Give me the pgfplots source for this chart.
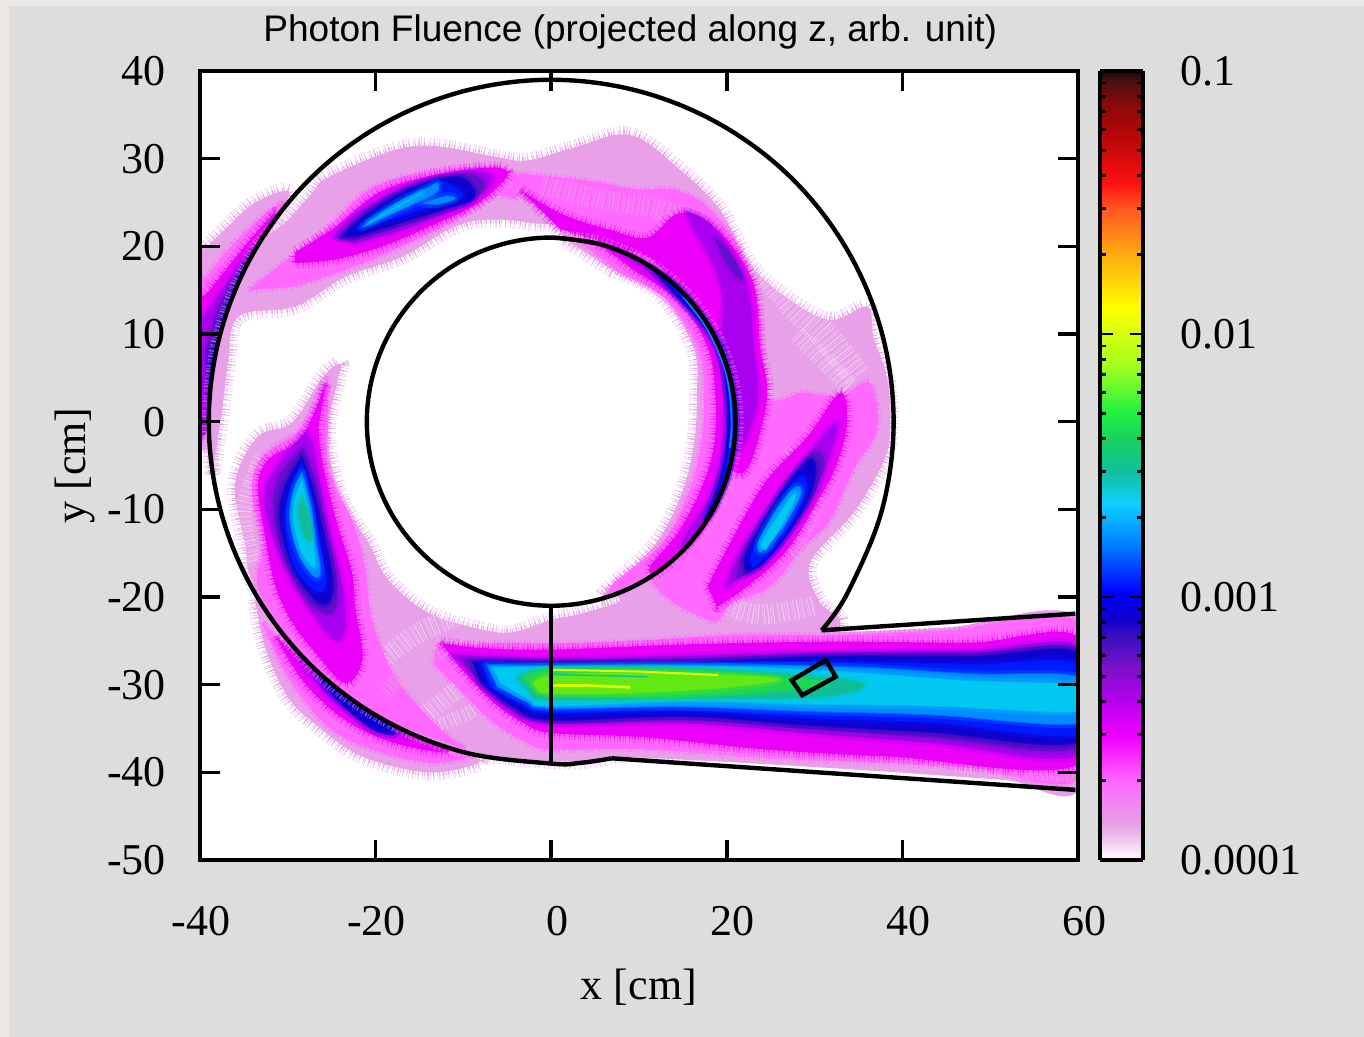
\documentclass[border=0pt]{standalone}
\usepackage{fontspec}
\setmainfont{Liberation Serif}
\newfontfamily\sansf{Liberation Sans}
\usepackage{pgfplots}
\pgfplotsset{compat=1.18}
\definecolor{cPale}{RGB}{232,160,232}
\definecolor{cPink}{RGB}{255,105,255}
\definecolor{cMag}{RGB}{235,0,250}
\definecolor{cVio}{RGB}{170,0,240}
\definecolor{cPur}{RGB}{95,16,200}
\definecolor{cDbl}{RGB}{16,0,205}
\definecolor{cBlu}{RGB}{0,25,255}
\definecolor{cAzu}{RGB}{0,140,255}
\definecolor{cCya}{RGB}{0,200,240}
\definecolor{cTea}{RGB}{16,190,150}
\definecolor{cGre}{RGB}{30,215,80}
\definecolor{cLim}{RGB}{100,232,20}
\definecolor{cYel}{RGB}{225,245,10}
\tikzset{
 rough/.style={line join=round,dash pattern=on 0.3pt off 0.9pt on 0.55pt off 1.7pt on 0.25pt off 0.6pt on 0.4pt off 1.3pt on 0.7pt off 0.8pt},
 pale/.style={fill=cPale,draw=cPale,line width=3.5pt,rough,
   preaction={draw=cPale,line width=8pt,rough,draw opacity=0.55,fill=none}},
 paleplain/.style={fill=cPale,draw=none},
 pinkf/.style={fill=cPink,draw=cPink,line width=3pt,rough,draw opacity=0.85},
 magf/.style={fill=cMag,draw=cMag,line width=2.4pt,rough,draw opacity=0.8,
   preaction={draw=cMag,line width=6pt,rough,draw opacity=0.4,fill=none}},
 lv/.style={fill=#1,draw=#1,line width=1pt,line join=round,draw opacity=0.5,
   preaction={draw=#1,line width=4pt,line join=round,draw opacity=0.25,fill=none}},
 wall/.style={draw=black,line width=2.2pt,fill=none},
 hair/.style={draw=white,fill=none,rough,draw opacity=0.4},
 phair/.style={draw=cPale,fill=none,rough,draw opacity=0.7}
}
\newcommand\blob[2]{\addplot[#1,smooth,tension=0.6,forget plot] coordinates {#2} -- cycle;}
\newcommand\hairs[2]{\addplot[hair,line width=#1,smooth,tension=0.6,forget plot] coordinates {#2};}
\newcommand\phairs[2]{\addplot[phair,line width=#1,smooth,tension=0.6,forget plot] coordinates {#2};}
\newcommand\shl[1]{\hspace*{5pt}#1}
\pgfplotsset{colormap={fluence}{
 rgb255(0pt)=(255,255,255); rgb255(42pt)=(228,166,228); rgb255(100pt)=(255,102,255);
 rgb255(156pt)=(240,0,255); rgb255(200pt)=(184,0,240); rgb255(245pt)=(122,16,200);
 rgb255(283pt)=(58,16,192); rgb255(304pt)=(16,0,200); rgb255(338pt)=(0,0,255);
 rgb255(400pt)=(0,128,255); rgb255(452pt)=(16,208,255); rgb255(490pt)=(16,192,160);
 rgb255(532pt)=(24,208,96); rgb255(566pt)=(32,240,64); rgb255(625pt)=(160,255,32);
 rgb255(700pt)=(255,255,0); rgb255(764pt)=(255,176,16); rgb255(824pt)=(255,90,32);
 rgb255(858pt)=(255,16,16); rgb255(909pt)=(192,8,8); rgb255(954pt)=(144,8,8);
 rgb255(985pt)=(80,16,16); rgb255(1000pt)=(32,8,8)}}
\begin{document}
\begin{tikzpicture}[x=1pt,y=1pt]
\path[use as bounding box] (0,0) rectangle (682,518.5);
\fill[color={rgb,255:red,235;green,231;blue,227}] (0,0) rectangle (682,518.5);
\fill[color={rgb,255:red,221;green,221;blue,221}] (4.5,0) rectangle (682,515.5);
\begin{axis}[
 at={(100pt,88.5pt)},anchor=south west,scale only axis,width=439pt,height=394.5pt,
 xmin=-40,xmax=60,ymin=-50,ymax=40,axis background/.style={fill=white},
 axis on top,axis line style={line width=2.4pt},
 xtick={-40,-20,0,20,40,60},xticklabels={-40,-20,\shl{0},\shl{20},\shl{40},\shl{60}},
 ytick={-50,-40,-30,-20,-10,0,10,20,30,40},yticklabels={-50,-40,-30,-20,-10,0,10,20,30,40},
 tick align=inside,major tick length=10pt,tick style={line width=1.8pt,black},
 ticklabel style={font=\fontsize{22}{24}\selectfont},
 xticklabel style={yshift=-19.5pt,xshift=0.5pt},yticklabel style={xshift=-13.5pt},
 xlabel={x [cm]},ylabel={y [cm]},
 label style={font=\fontsize{22}{24}\selectfont},
 xlabel style={at={(axis description cs:0.5,-0.161)},anchor=center},
 ylabel style={at={(axis description cs:-0.142,0.5)},anchor=center,rotate=0},
 title={\sansf Photon Fluence (projected along z, arb. unit)},
 title style={font=\fontsize{18.5}{20}\selectfont,at={(axis description cs:0.49,1.034)},anchor=center},
 no markers
]
% outside-wall lobes
\blob{pale}{(-41,19.5)(-39.7,19.6)(-37.5,21.6)(-33.7,25)(-29.8,26)(-33.9,19.3)(-37.8,10)(-39.1,0)(-39,-3)(-41,-3)}
\blob{pinkf}{(-41,16.5)(-39.4,16.5)(-36.8,19.6)(-33.4,23)(-30.3,25)(-33.9,19.3)(-37.8,10)(-39.1,1)(-41,-1)}
\blob{magf}{(-41,14.3)(-39.6,14.3)(-37.1,17.3)(-34,21.1)(-31.4,23.8)(-33.9,19.3)(-37.8,10)(-39.1,1)(-41,-1)}
\blob{lv=cVio}{(-41,12)(-39.6,12)(-37.5,15)(-35.2,18.1)(-33.9,19.3)(-37.8,10)(-39.1,1)(-39.5,-1.5)(-41,-2)}
\blob{lv=cPur}{(-39.3,8)(-37.9,12.8)(-36,16.5)(-34.2,18.8)(-37.8,10)(-39,3)}
\blob{lv=cDbl}{(-38.8,7)(-37.4,12)(-35.6,16)(-34.2,18.8)(-37.8,10)(-38.9,3)}
\blob{pale}{(-33.7,-20.3)(-32.6,-25.7)(-30,-31.4)(-26.5,-34.8)(-21.5,-38.2)(-14,-40)(-8.3,-38.9)(-10.1,-37.7)(-19.5,-33.8)(-27.6,-27.6)}
\blob{pinkf}{(-32.9,-22.9)(-30,-29.1)(-25.4,-34.8)(-20.4,-37.4)(-14,-38.9)(-9.5,-38.3)(-10.1,-37.7)(-19.5,-33.8)(-27.6,-27.6)}
\blob{magf}{(-31.4,-24.5)(-28.4,-29.4)(-24.6,-33.2)(-20,-35.9)(-14.7,-37.4)(-11.7,-37.4)(-19.5,-33.8)(-27.6,-27.6)}
\blob{lv=cVio}{(-28.8,-27.1)(-26,-30.6)(-22.7,-33.2)(-18.6,-35.1)(-16.3,-35.9)(-19.5,-33.8)(-27.6,-27.6)}
\blob{lv=cDbl}{(-26.5,-29.1)(-24.5,-31.6)(-20.5,-35)(-17.8,-35.6)(-19.5,-33.8)(-24,-30.7)}
% pale regions in the ring
\blob{pale}{(-38.6,-6)(-38.9,0)(-37.6,10)(-33.7,19.4)(-30,23)(-27.2,26.1)(-25.4,27.9)(-17.8,31)(-12.9,31.4)(-6.4,30.2)(-2.6,29.8)(2.7,31.3)(9,32.7)(14.7,28.7)(19.2,24.2)(22.7,17.9)(27.2,13.9)(31.8,11.6)(36,13.1)(36.7,9.7)(38.3,4.8)(38.6,-0.9)(37.8,-4.7)(34.4,-10.4)(29.5,-16.1)(30.6,-20.6)(32.9,-22.6)(31,-25)(20,-25)(10,-24)(5,-10)(1.4,10)(1.4,21)(-2.6,22.7)(-7.9,23)(-11.7,21.9)(-17,18.8)(-23.5,16.5)(-29.2,13.1)(-35.6,12)(-36.8,6.7)(-37.5,1)}
\blob{pale}{(7.9,-20.6)(3,-22)(0,-22.6)(-4.3,-24)(-7.9,-23.7)(-14,-21.8)(-18.6,-18)(-20.8,-13.8)(-23.5,-9.7)(-24.9,-5.5)(-25.4,-0.6)(-24.3,4.8)(-24,6.6)(-26,5.1)(-29.5,-0.1)(-33.4,-1.7)(-36,-7)(-34.9,-13.8)(-33.7,-19)(-27.6,-27.4)(-19.5,-33.5)(-10.1,-37.4)(0,-38.7)(7,-38.2)(20,-35)(20,-25)}
\blob{paleplain}{(0,-24)(20,-24.2)(33,-24)(45,-23.5)(60.5,-22.7)(60.5,-41.5)(52,-40.9)(45,-40.4)(30,-39.4)(7,-38.2)(0,-38.7)(-5,-37)}
% white streaks in the pale areas
\hairs{14pt}{(23,19)(27,14)(31,10)(35,5)}
\hairs{9pt}{(28,10)(31,7)(34,4)}
\hairs{10pt}{(-19,-27)(-15,-24)(-10,-22)}
\hairs{9pt}{(-15,-34)(-10,-30)(-5,-27)}
\hairs{7pt}{(-14,-35)(-9,-33)(-5,-30)}
\hairs{10pt}{(20,-21)(24,-22)(30,-21)}
\hairs{6pt}{(-33,12)(-27,13)(-20,16)}
\hairs{8pt}{(-33,-4)(-35,-10)(-34,-16)}
% pink regions
\blob{pinkf}{(-4.4,28.4)(4.1,27.5)(9.8,26.5)(13.9,26.5)(17.8,24.5)(21.5,19.6)(23.8,12)(24.6,2.9)(28.7,3.3)(32.9,2.9)(36.3,4.4)(37.1,-0.9)(34.4,-5.5)(31.8,-11.2)(28.7,-14.3)(24.9,-18.8)(20.7,-20.6)(17.8,-22.6)(10,-15)(10,10)(3,22)(0,24)(-3.5,26)}
\blob{pinkf}{(-34.5,15)(-30.6,18.1)(-25.4,22.2)(-20.8,26.5)(-14.7,28.4)(-8.3,29.1)(-4.4,28.4)(-4,25.5)(-6.4,25.7)(-10.9,23)(-17.8,19.6)(-23.5,17.3)(-29.2,15.4)}
\blob{pinkf}{(-25.4,5.1)(-28.4,-0.6)(-32.9,-4)(-34.1,-8.1)(-32.9,-13.8)(-33.2,-19.5)(-27.5,-27.5)(-19.5,-33.6)(-10.1,-37.2)(-11.7,-35.9)(-14.7,-32.9)(-17.8,-29.1)(-20.4,-22.6)(-21.2,-16.5)(-22.7,-11.2)(-25.4,-5.5)(-25.4,-0.6)}
\blob{pinkf}{(-13,-25.5)(-5,-25.2)(0,-25.3)(10,-25)(20,-24.3)(32,-24.3)(45,-23.8)(60.5,-23.2)(60.5,-40.3)(47.7,-39.5)(38.5,-39)(24.5,-38.4)(10.6,-37.4)(0,-37.4)(-2.8,-36.6)(-6.6,-34.3)(-10.8,-30.2)(-13.5,-27.5)}
% pale streaks over the pink
\phairs{10pt}{(-1,27)(5,25.5)(11,24.5)(16,23)}
\phairs{9pt}{(27,-3)(30,-9)(27,-15)}
\phairs{7pt}{(-19,-31)(-16,-28)(-12,-26)}
\phairs{5pt}{(5,-38)(20,-38.2)(35,-39.1)(50,-40)(60,-40.6)}
\phairs{4pt}{(-12,-25)(5,-24.5)(20,-24)}
% magenta and deeper: upper-left lobe
\blob{magf}{(-29.2,19.3)(-24.6,22.2)(-19.7,26.1)(-14,28)(-7.2,29)(-4.9,28.4)(-6.4,26.5)(-9,24.5)(-14,22.2)(-19.2,20)(-24.6,18.5)(-29.2,18.1)}
\blob{lv=cVio}{(-24.9,21.1)(-21.5,24.2)(-15.8,27)(-9,28.5)(-6.7,27.9)(-7.9,26.1)(-10.9,24.2)(-17,21.9)(-22.3,20.4)}
\blob{lv=cPur}{(-24.2,21)(-21,24)(-15.8,26.9)(-10,28.2)(-7.8,27.4)(-8.3,26)(-12,24.2)(-17.5,22.2)(-22.5,20.8)}
\blob{lv=cDbl}{(-23.8,21.1)(-20.8,23.8)(-15.8,26.7)(-10.9,27.9)(-9,26.8)(-9,25.3)(-12.4,24.2)(-17.8,22.5)(-22.3,21.1)}
\blob{lv=cBlu}{(-22.3,21.9)(-19.2,24.2)(-14.7,26.7)(-12.4,27.4)(-10.1,25.7)(-14,24.4)(-18.6,23)}
\blob{lv=cAzu}{(-21.5,22.2)(-17.8,24.8)(-14,26.7)(-12.9,27.2)(-13.2,26.1)(-15.8,24.8)(-19.2,23.3)}
\blob{lv=cAzu}{(-14.5,24.9)(-12,25.7)(-11,25.4)(-13,24.8)}
\blob{lv=cCya}{(-20.8,22.7)(-17.8,24.4)(-14.7,26.1)(-17,24.8)(-19.7,23.3)}
% lower-left lobe
\blob{magf}{(-25.7,4.4)(-28.4,-1.7)(-32.2,-4.3)(-33.4,-7.4)(-32.6,-13.1)(-31.4,-18.8)(-29.5,-22.9)(-26.9,-26.3)(-23.5,-29.8)(-21.5,-27.1)(-22.3,-21.4)(-22.7,-17.2)(-24.6,-10.8)(-26.1,-4.3)(-26.5,-0.6)}
\blob{lv=cVio}{(-28,-1.3)(-30.6,-4.3)(-32.6,-8.1)(-31.8,-12.7)(-30,-17.2)(-27.2,-21.8)(-24.6,-24.9)(-23.5,-23.4)(-23.8,-18.8)(-25.4,-12)(-26.5,-6.3)(-27.2,-2.4)}
\blob{lv=cPur}{(-28.2,-3)(-30.8,-6)(-31.6,-10)(-30.4,-15.5)(-27.6,-20.5)(-25,-21.8)(-24.4,-18.4)(-25.7,-12)(-26.9,-6.5)}
\blob{lv=cDbl}{(-28.4,-4)(-30.3,-7.4)(-30.9,-11.2)(-29.5,-16.5)(-26.9,-20.3)(-25.4,-20.6)(-24.9,-18)(-26.1,-12)(-27.2,-7.4)}
\blob{lv=cBlu}{(-28.4,-4.7)(-29.7,-7.8)(-30.3,-11.5)(-29.2,-16.5)(-26.9,-19.2)(-25.7,-18.8)(-26,-15.7)(-26.9,-10.8)(-27.7,-7)}
\blob{lv=cAzu}{(-28.4,-5.8)(-29.4,-8.1)(-29.7,-11.5)(-28.6,-15.4)(-26.9,-17.7)(-26.3,-16.9)(-26.9,-13.5)(-27.4,-9.7)}
\blob{lv=cCya}{(-28.4,-6.8)(-29.2,-8.9)(-29.3,-11.5)(-28.4,-14.9)(-27.2,-16.5)(-26.9,-16.1)(-27.2,-13.1)(-27.8,-9.2)}
\blob{lv=cTea}{(-28.4,-8.6)(-28.7,-10.4)(-28.2,-12.7)(-27.4,-13.7)(-27.4,-12)(-28,-9.7)}
% right lobes
\blob{magf}{(-3.5,26.4)(1.4,23.6)(7,21.8)(11,21)(14.7,23.8)(19.2,21.6)(23,15.9)(23.8,8.5)(24.6,2.9)(22.7,-4.7)(20.7,-5.5)(19,0)(18,10)(12,18)(7,20)(1,22)}
\blob{lv=cVio}{(15.3,24)(17.5,23)(19.5,20.8)(22.3,15.4)(23,8.5)(23.5,2.9)(22.3,-1.5)(21,-3)(20,5)(19.5,10)(19.6,14)(18.5,18)(16.5,21.5)}
\blob{lv=cPur}{(18.7,20.9)(20.3,19.2)(21.8,16.6)(21.2,16.6)(19.8,18.5)}
\blob{magf}{(17.8,-18.8)(21.2,-12.3)(24.6,-6.6)(29.2,-1.7)(32.9,3.3)(33.7,-0.1)(32.6,-4.7)(30.6,-8.6)(26.9,-14.6)(22.3,-18.8)(18.9,-21.1)}
\blob{lv=cVio}{(20,-18.8)(21.5,-14.9)(26.1,-8.1)(29.8,-3.2)(32.6,-0.1)(31.4,-4.7)(29.2,-9.2)(25.7,-14.3)(22.3,-17.2)}
\blob{lv=cPur}{(21.2,-17.8)(21.8,-15.2)(25.2,-9.6)(29.6,-3.8)(31,-4.6)(29.6,-8.9)(26,-14)(23,-17)}
\blob{lv=cDbl}{(22.3,-17.2)(22.1,-15.4)(24.1,-11.5)(26.9,-7)(29.5,-4.3)(30.1,-5.8)(29.2,-8.9)(26.4,-13.5)(23.8,-16.5)}
\blob{lv=cBlu}{(23,-16.5)(22.9,-14.9)(25.3,-10.4)(27.6,-7)(28.9,-6.3)(28.9,-8.6)(26.4,-13.1)(24.1,-15.7)}
\blob{lv=cAzu}{(23.8,-14.9)(23.6,-13.8)(25.7,-10)(27.8,-7.5)(28.4,-8.3)(26.4,-12)}
\blob{lv=cCya}{(24.4,-14.6)(24,-13.8)(26.1,-10.4)(27.6,-8.3)(27.6,-9.2)(25.7,-12.7)}
% beam
\blob{magf}{(-12.6,-25.2)(-8,-25.8)(0,-26)(15.3,-25.4)(31.5,-25.1)(47.7,-25.2)(60.5,-24.9)(60.5,-38.9)(38.5,-38.2)(24.5,-37.4)(10.6,-36)(0,-35.5)(-3.3,-34.3)(-6.6,-32)(-9.9,-28.6)}
\blob{lv=cVio}{(-11.3,-26.6)(0,-27.1)(15.3,-26.8)(31.5,-26.4)(47.7,-26.2)(60.5,-26)(60.5,-37.8)(43.2,-36.6)(29.2,-35.5)(15.3,-34.3)(0,-34.3)(-5.2,-32.5)(-9.3,-28.3)}
\blob{lv=cPur}{(-10,-27.1)(0,-27.3)(15.3,-27.1)(31.5,-26.6)(47.7,-26.5)(60.5,-26.3)(60.5,-37)(43.2,-36)(29.2,-35)(15.3,-34)(0,-34.2)(-4.8,-32.5)(-8.7,-29)}
\blob{lv=cDbl}{(-8.9,-27.4)(0,-27.5)(15.3,-27.5)(31.5,-26.8)(47.7,-26.8)(60.5,-26.6)(60.5,-36.3)(43.2,-35.4)(29.2,-34.6)(15.3,-33.6)(0,-34)(-4.3,-32.5)(-8,-29.8)}
\blob{lv=cBlu}{(-8,-27.5)(0,-27.8)(15.3,-27.6)(31.5,-27.4)(47.7,-27.7)(60.5,-27.8)(60.5,-35.5)(43.2,-34.3)(29.2,-33.8)(15.3,-33)(0,-33.2)(-3.8,-32)(-7,-30.2)}
\blob{lv=cAzu}{(-7.3,-27.8)(0,-27.9)(15.3,-27.8)(33.8,-28)(47.7,-28.8)(60.5,-29.3)(60.5,-34.3)(43.2,-33.4)(29.2,-33)(15.3,-32.5)(0,-32.6)(-2.8,-31.9)(-6.1,-30.2)}
\blob{lv=cCya}{(-6.6,-28.1)(0,-28)(19.9,-28)(33.8,-28.6)(47.7,-29.6)(60.5,-30.2)(60.5,-33)(43.2,-32.4)(29.2,-32.2)(15.3,-31.9)(0,-32.4)(-2.4,-31.7)(-5.7,-29.8)}
\blob{lv=cTea}{(-3.8,-29.2)(0,-28.2)(15.3,-28.2)(27.3,-28.9)(35.2,-29.8)(33.8,-30.9)(27.3,-31.5)(15.3,-31.5)(0,-31.7)(-2.2,-31.1)}
\blob{lv=cGre}{(-3.1,-29.4)(0,-28.3)(15.3,-28.4)(26.9,-29.2)(31.5,-29.8)(26.9,-30.6)(15.3,-31.4)(5.9,-31.4)(0,-31.1)(-1.7,-30.8)}
\blob{lv=cLim}{(-2,-29.9)(0,-29)(10,-28.6)(20,-28.9)(26,-29.4)(20,-30.3)(10,-30.9)(0,-31)(-1.5,-30.5)}
\addplot[cYel,line width=1pt,forget plot] coordinates {(0,-28.3)(10,-28.5)(19,-28.9)};
\addplot[cYel,line width=1.4pt,forget plot] coordinates {(0,-30.1)(4,-30.1)(9,-30.3)};
\addplot[cTea,line width=0.7pt,forget plot] coordinates {(0,-28.85)(5,-28.95)(11,-29.1)};
% inside of the inner circle
\blob{fill=white,draw=none}{(0,21)(5.43,20.28)(10.5,18.19)(14.85,14.85)(18.19,10.5)(20.28,5.43)(21,0)(20.28,-5.43)(18.19,-10.5)(14.85,-14.85)(10.5,-18.19)(5.43,-20.28)(0,-21)(-5.43,-20.28)(-10.5,-18.19)(-14.85,-14.85)(-18.19,-10.5)(-20.28,-5.43)(-21,0)(-20.28,5.43)(-18.19,10.5)(-14.85,14.85)(-10.5,18.19)(-5.43,20.28)}
\blob{pale}{(1.4,20.9)(5.43,20.28)(10.5,18.19)(14.85,14.85)(18.19,10.5)(20.28,5.43)(21,0)(20.28,-5.43)(18.19,-10.5)(14.85,-14.85)(10.5,-18.19)(6.4,-20)(6.4,-19.2)(11.6,-14.3)(14.7,-8.6)(16.2,-2.9)(16.6,2.8)(16.2,8.5)(12.4,14.6)(7,17.3)}
\blob{pinkf}{(3,20.7)(5.43,20.28)(10.5,18.19)(14.85,14.85)(18.19,10.5)(20.28,5.43)(21,0)(20.28,-5.43)(18.19,-10.5)(14.85,-14.85)(10.5,-18.19)(7.5,-19.6)(7,-18.5)(12.5,-14)(15.5,-8.5)(17,-3)(17.4,2.8)(16.7,8.4)(13,14)(8,16.8)}
\blob{magf}{(5.43,20.28)(10.5,18.19)(14.85,14.85)(18.19,10.5)(20.28,5.43)(21,0)(20.28,-5.43)(18.19,-10.5)(14.85,-14.85)(12,-17.3)(11.3,-16.5)(14.4,-12.7)(17,-7.8)(18.5,-2.9)(18.7,2.9)(17.8,8.5)(14.7,13.6)(9.8,17)}
\blob{lv=cVio}{(7.2,19.7)(10.5,18.19)(14.85,14.85)(18.19,10.5)(20.28,5.43)(21,0)(20.28,-5.43)(18.19,-10.5)(15.2,-14.5)(15.2,-13.3)(18.2,-8.3)(19.6,-3)(19.7,3)(18.3,9)(15,13.4)(10.5,17.6)}
\blob{lv=cDbl}{(11.1,17.8)(14.85,14.85)(18.19,10.5)(20.28,5.43)(21,0)(20.28,-5.43)(18.6,-9.8)(17.5,-11)(18.9,-7.5)(19.9,-3)(20,3)(18.8,8.8)(15,13.6)}
\blob{lv=cBlu}{(12.6,16.8)(14.85,14.85)(18.19,10.5)(20.28,5.43)(21,0)(20.28,-5.43)(19.5,-7.5)(20.3,-3)(20.4,3)(19.2,9)(15,14.1)}
\addplot[cAzu,line width=0.8pt,smooth,tension=0.6,forget plot] coordinates {(15,14.3)(17.9,10.3)(19.95,5.3)(20.55,0)(20.3,-3)};
% walls
\addplot[wall,smooth,tension=0.6,forget plot] coordinates {(0,21)(5.43,20.28)(10.5,18.19)(14.85,14.85)(18.19,10.5)(20.28,5.43)(21,0)(20.28,-5.43)(18.19,-10.5)(14.85,-14.85)(10.5,-18.19)(5.43,-20.28)(0,-21)(-5.43,-20.28)(-10.5,-18.19)(-14.85,-14.85)(-18.19,-10.5)(-20.28,-5.43)(-21,0)(-20.28,5.43)(-18.19,10.5)(-14.85,14.85)(-10.5,18.19)(-5.43,20.28)(0,21)(5.43,20.28)};
\addplot[wall,smooth,tension=0.6,forget plot] coordinates {(6.9,-38.4)(3.5,-38.9)(0,-39)(-10.09,-37.67)(-19.5,-33.77)(-27.58,-27.58)(-33.77,-19.5)(-37.67,-10.09)(-39,0)(-37.67,10.09)(-33.77,19.5)(-27.58,27.58)(-19.5,33.77)(-10.09,37.67)(0,39)(10.09,37.67)(19.5,33.77)(27.58,27.58)(33.77,19.5)(37.67,10.09)(39,0)(37.67,-10.09)(33.77,-19.5)(30.8,-23.8)};
\addplot[wall,forget plot] coordinates {(30.8,-23.8)(59.7,-21.9)};
\addplot[wall,forget plot] coordinates {(6.9,-38.4)(59.7,-42)};
\addplot[wall,forget plot] coordinates {(0,-21)(0,-39)};
\addplot[wall,forget plot,line join=miter] coordinates {(27.4,-29.5)(31.3,-27.2)(32.4,-29.1)(28.6,-31.2)} -- cycle;
\end{axis}
\begin{axis}[
 at={(550pt,88.5pt)},anchor=south west,scale only axis,width=21.5pt,height=394.5pt,
 view={0}{90},xmin=0,xmax=1,ymode=log,ymin=0.0001,ymax=0.1,
 point meta min=0,point meta max=1000,colormap name=fluence,
 axis on top,axis line style={line width=2.4pt},
 xtick=\empty,ztick=\empty,
 ytick={0.0001,0.001,0.01,0.1},yticklabels={0.0001,0.001,0.01,0.1},
 minor ytick={0.0002,0.0003,0.0004,0.0005,0.0006,0.0007,0.0008,0.0009,0.002,0.003,0.004,0.005,0.006,0.007,0.008,0.009,0.02,0.03,0.04,0.05,0.06,0.07,0.08,0.09},
 ytick pos=both,yticklabel pos=right,tick align=inside,
 major tick length=6.5pt,minor tick length=3pt,tick style={line width=1.4pt,black},
 yticklabel style={font=\fontsize{22}{24}\selectfont,anchor=west,xshift=15pt},
]
\addplot3[surf,shader=interp,mesh/cols=2,point meta=explicit,forget plot] table[x=x,y=y,z=z,meta=m] {
x y z m
0 0.0001 0 0
1 0.0001 0 0
0 0.0001337 0 42
1 0.0001337 0 42
0 0.0001995 0 100
1 0.0001995 0 100
0 0.0002938 0 156
1 0.0002938 0 156
0 0.0003981 0 200
1 0.0003981 0 200
0 0.0005433 0 245
1 0.0005433 0 245
0 0.0007063 0 283
1 0.0007063 0 283
0 0.0008166 0 304
1 0.0008166 0 304
0 0.001033 0 338
1 0.001033 0 338
0 0.001585 0 400
1 0.001585 0 400
0 0.00227 0 452
1 0.00227 0 452
0 0.002951 0 490
1 0.002951 0 490
0 0.003945 0 532
1 0.003945 0 532
0 0.004989 0 566
1 0.004989 0 566
0 0.007499 0 625
1 0.007499 0 625
0 0.01259 0 700
1 0.01259 0 700
0 0.01959 0 764
1 0.01959 0 764
0 0.02965 0 824
1 0.02965 0 824
0 0.0375 0 858
1 0.0375 0 858
0 0.05333 0 909
1 0.05333 0 909
0 0.07278 0 954
1 0.07278 0 954
0 0.09016 0 985
1 0.09016 0 985
0 0.1 0 1000
1 0.1 0 1000
};
\end{axis}
\end{tikzpicture}
\end{document}
